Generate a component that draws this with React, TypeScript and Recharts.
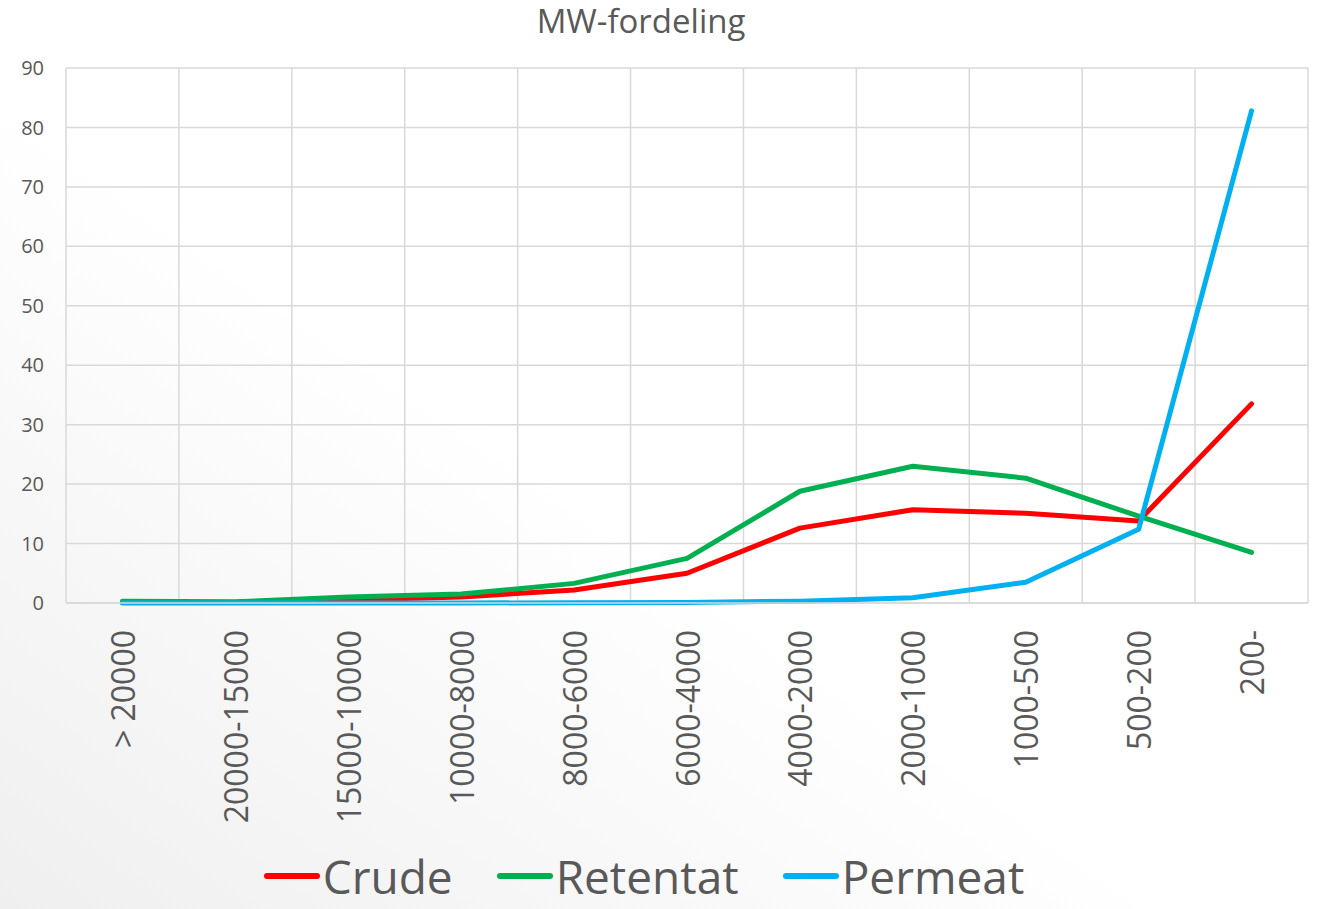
import React from 'react';
import { LineChart, Line, XAxis, YAxis, CartesianGrid, Legend } from 'recharts';

// kategorier (molekylvekt-intervall)
const categories = [
  '> 20000', '20000-15000', '15000-10000', '10000-8000', '8000-6000', '6000-4000',
  '4000-2000', '2000-1000', '1000-500', '500-200', '200-',
];

const crude = [0.1, 0.1, 0.5, 1.0, 2.2, 5.0, 12.6, 15.7, 15.1, 13.8, 33.5];
const retentat = [0.3, 0.2, 1.0, 1.5, 3.3, 7.5, 18.8, 23.0, 21.0, 14.6, 8.5];
const permeat = [0.0, 0.0, 0.0, 0.0, 0.05, 0.1, 0.3, 0.9, 3.5, 12.4, 82.8];

const yTicks = [0, 10, 20, 30, 40, 50, 60, 70, 80, 90];

const series = [
  { key: 'Crude', values: crude, color: '#FF0000' },
  { key: 'Retentat', values: retentat, color: '#00B050' },
  { key: 'Permeat', values: permeat, color: '#00B0F0' },
];

const data = categories.map((name, i) => ({
  name,
  Crude: crude[i],
  Retentat: retentat[i],
  Permeat: permeat[i],
}));

const FONT = '"Open Sans", sans-serif';
const TEXT = '#595959';

const XTick = (props: any) => {
  const { x, y, payload } = props;
  return (
    <text
      x={x}
      y={y}
      transform={`rotate(-90, ${x}, ${y})`}
      textAnchor="end"
      dominantBaseline="central"
      fontSize={32}
      fontFamily={FONT}
      fill={TEXT}
    >
      {payload.value}
    </text>
  );
};

const LegendContent = () => (
  <div
    style={{
      display: 'flex',
      justifyContent: 'center',
      alignItems: 'center',
      height: 60,
      boxSizing: 'border-box',
      paddingBottom: 6,
      paddingRight: 20,
      fontFamily: FONT,
    }}
  >
    {series.map((s) => (
      <div key={s.key} style={{ display: 'flex', alignItems: 'center', margin: '0 22px' }}>
        <span style={{ display: 'inline-block', width: 56, height: 6, borderRadius: 3, background: s.color, marginRight: 3 }} />
        <span style={{ fontSize: 46, color: TEXT, lineHeight: '46px' }}>{s.key}</span>
      </div>
    ))}
  </div>
);

export default function App() {
  return (
    <div
      style={{
        position: 'absolute',
        left: 0,
        top: 0,
        width: 1317,
        height: 909,
        background: 'linear-gradient(to top right, #efefef 0%, #ffffff 45%)',
      }}
    >
      <div
        style={{
          position: 'absolute',
          top: 0,
          left: 0,
          width: 1282,
          textAlign: 'center',
          fontFamily: FONT,
          fontSize: 33,
          color: TEXT,
          lineHeight: '42px',
        }}
      >
        MW-fordeling
      </div>
      <LineChart
        width={1317}
        height={909}
        data={data}
        margin={{ top: 68, right: 9, left: 0, bottom: 0 }}
      >
        <CartesianGrid
          stroke="#d9d9d9"
          strokeWidth={1.5}
          verticalCoordinatesGenerator={({ offset }: any) =>
            categories.map((_, i) => offset.left + (i * offset.width) / categories.length).concat(offset.left + offset.width)
          }
        />
        <XAxis
          dataKey="name"
          scale="band"
          interval={0}
          height={246}
          tick={<XTick />}
          tickLine={false}
          tickSize={0}
          tickMargin={27}
          axisLine={{ stroke: '#d9d9d9', strokeWidth: 1.5 }}
        />
        <YAxis
          domain={[0, 90]}
          ticks={yTicks}
          width={66}
          tickLine={false}
          tickSize={0}
          tickMargin={22}
          axisLine={false}
          tick={{ fontSize: 20, fontFamily: FONT, fill: TEXT }}
        />
        <Legend verticalAlign="bottom" height={60} content={<LegendContent />} />
        {series.map((s) => (
          <Line
            key={s.key}
            type="linear"
            dataKey={s.key}
            stroke={s.color}
            strokeWidth={5}
            strokeLinecap="round"
            strokeLinejoin="round"
            dot={false}
            activeDot={false}
            isAnimationActive={false}
          />
        ))}
      </LineChart>
    </div>
  );
}
